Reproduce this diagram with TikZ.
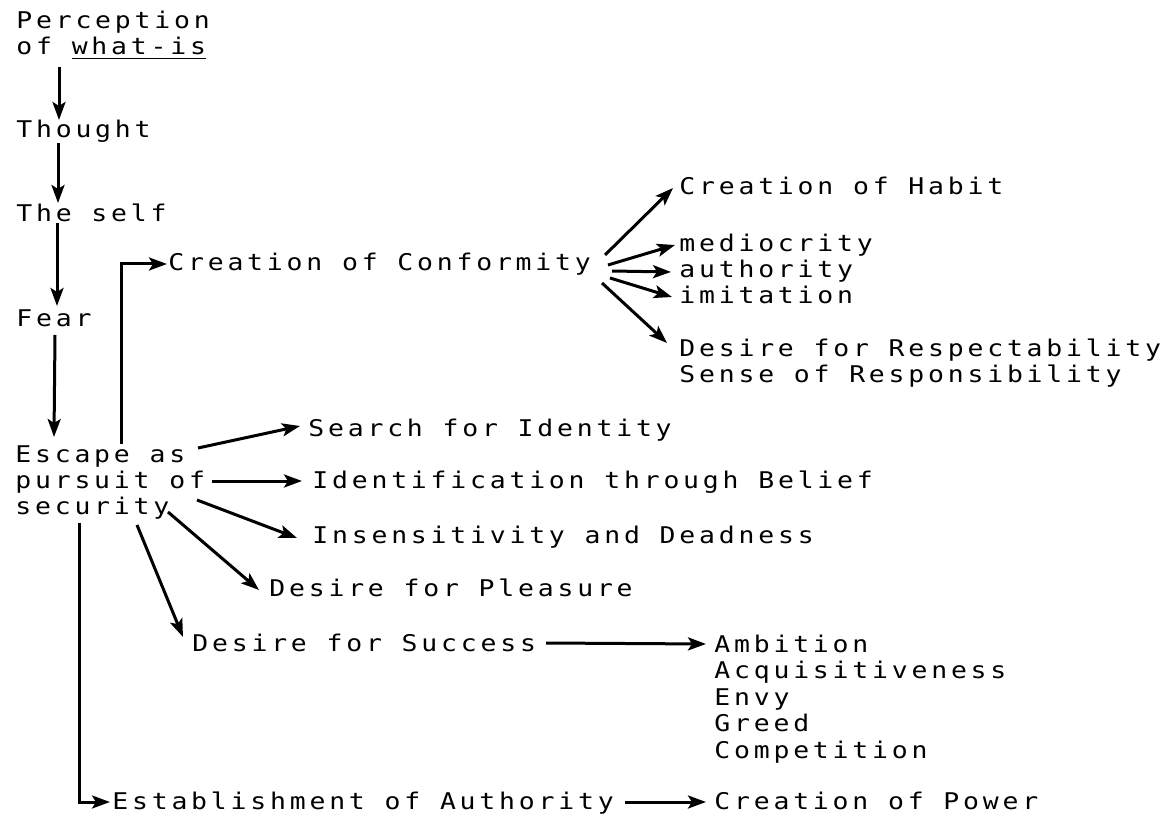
\documentclass[tikz,border=0pt]{standalone}
\usepackage{fontspec}
\newfontfamily\dotfont{DejaVu Sans Mono}[FakeStretch=1.15,LetterSpace=16.5]
\usetikzlibrary{arrows.meta,calc}

\begin{document}
\begin{tikzpicture}[x=0.5pt,y=-0.5pt,>={Stealth[length=9pt,width=6.5pt,inset=2pt]},
  lbl/.style={inner sep=0pt,anchor=base west,align=left,font=\dotfont\fontsize{11.5pt}{13.25pt}\selectfont},
  conn/.style={->,line width=1.5pt}]
\useasboundingbox (0,0) rectangle (1170,817);
\node[lbl] (perc) at (16,55) {Perception\\of \underline{what-is}};
\node[lbl] (thought) at (16,138) {Thought};
\node[lbl] (self) at (16,222) {The self};
\node[lbl] (fear) at (16,327) {Fear};
\node[lbl] (esc1) at (15,462) {Escape as};
\node[lbl] (esc2) at (15,488) {pursuit of};
\node[lbl] (esc3) at (15,514) {security};
\node[lbl] (conf) at (168,271) {Creation of Conformity};
\node[lbl] (habit) at (679,195) {Creation of Habit};
\node[lbl] (medi) at (679,252) {mediocrity};
\node[lbl] (auth) at (679,278) {authority};
\node[lbl] (imit) at (679,304) {imitation};
\node[lbl] (resp) at (679,383) {Desire for Respectability\\Sense of Responsibility};
\node[lbl] (search) at (308,436) {Search for Identity};
\node[lbl] (ident) at (312,488) {Identification through Belief};
\node[lbl] (insens) at (312,543) {Insensitivity and Deadness};
\node[lbl] (pleas) at (269,596) {Desire for Pleasure};
\node[lbl] (succ) at (192,651) {Desire for Success};
\node[lbl] (ambi) at (714,758) {Ambition\\Acquisitiveness\\Envy\\Greed\\Competition};
\node[lbl] (estab) at (112,809) {Establishment of Authority};
\node[lbl] (power) at (714,809) {Creation of Power};

\draw[conn] ($(perc.base west)+(43,12)$) -- ($(thought.base west)+(43,-18)$);
\draw[conn] ($(thought.base west)+(42,5)$) -- ($(self.base west)+(42,-19)$);
\draw[conn] ($(self.base west)+(41,1)$) -- ($(fear.base west)+(41,-21)$);
\draw[conn] ($(fear.base west)+(39,8)$) -- ($(esc1.base west)+(39,-25)$);
\draw[conn] ($(esc1.base west)+(106,-18)$) |- ($(conf.base west)+(-1,-7)$);
\draw[conn] ($(conf.base west)+(437,-16)$) -- ($(habit.base west)+(-6,-7)$);
\draw[conn] ($(conf.base west)+(440,-6)$) -- ($(medi.base west)+(-4,-7)$);
\draw[conn] ($(conf.base west)+(444,0)$) -- ($(auth.base west)+(-8,-6)$);
\draw[conn] ($(conf.base west)+(442,7)$) -- ($(imit.base west)+(-7,-7)$);
\draw[conn] ($(conf.base west)+(434,12)$) -- ($(resp.base west)+(-12,-40)$);
\draw[conn] ($(esc1.base west)+(183,-14)$) -- ($(search.base west)+(-8,-10)$);
\draw[conn] ($(esc2.base west)+(197,-7)$) -- ($(ident.base west)+(-10,-7)$);
\draw[conn] ($(esc3.base west)+(182,-14)$) -- ($(insens.base west)+(-15,-5)$);
\draw[conn] ($(esc3.base west)+(153,-2)$) -- ($(pleas.base west)+(-10,-6)$);
\draw[conn] ($(esc3.base west)+(122,11)$) -- ($(succ.base west)+(-9,-14)$);
\draw[conn] ($(succ.base west)+(354,-8)$) -- ($(ambi.base west)+(-8,-114)$);
\draw[conn] ($(esc3.base west)+(64,9)$) |- ($(estab.base west)+(-2,-7)$);
\draw[conn] ($(estab.base west)+(513,-7)$) -- ($(power.base west)+(-8,-7)$);
\end{tikzpicture}
\end{document}
